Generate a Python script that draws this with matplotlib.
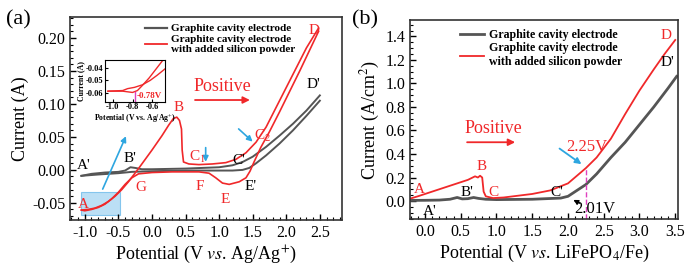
import numpy as np
import matplotlib
matplotlib.use('Agg')
from matplotlib import pyplot as plt

plt.rcParams['font.family'] = 'Liberation Serif'
plt.rcParams['mathtext.fontset'] = 'stix'

# ---- panel (a): cyclic voltammetry ----
red_fwd_x = [-1.05, -0.95, -0.85, -0.75, -0.65, -0.55, -0.45, -0.35, -0.2, 0.0, 0.15, 0.25, 0.32, 0.37,
             0.41, 0.44, 0.45, 0.47, 0.55, 0.7, 0.9, 1.1, 1.25, 1.4, 1.55, 1.7, 1.9, 2.1, 2.3, 2.48]
red_fwd_y = [-0.061, -0.060, -0.058, -0.054, -0.048, -0.040, -0.030, -0.018, 0.002, 0.030, 0.052, 0.068,
             0.078, 0.080, 0.075, 0.062, 0.030, 0.012, 0.009, 0.008, 0.009, 0.011, 0.016, 0.026, 0.042,
             0.065, 0.105, 0.145, 0.185, 0.215]
red_rev_x = [2.48, 2.2, 1.9, 1.75, 1.62, 1.52, 1.46, 1.4, 1.3, 1.15, 1.05, 0.95, 0.85, 0.7, 0.3, 0.0,
             -0.2, -0.3, -0.4, -0.5, -0.6, -0.7, -0.8, -0.9, -1.0, -1.05]
red_rev_y = [0.210, 0.150, 0.088, 0.058, 0.034, 0.012, -0.002, -0.012, -0.018, -0.022, -0.020, -0.012,
             -0.005, -0.003, -0.003, -0.004, -0.006, -0.012, -0.022, -0.034, -0.044, -0.052, -0.057,
             -0.060, -0.062, -0.061]
gray_fwd_x = [-1.05, -0.9, -0.7, -0.5, -0.4, -0.32, -0.25, -0.15, 0.0, 0.5, 1.0, 1.2, 1.35, 1.5, 1.7,
              1.9, 2.1, 2.3, 2.5]
gray_fwd_y = [-0.009, -0.006, -0.004, -0.003, -0.001, 0.004, 0.003, 0.001, 0.001, 0.002, 0.004, 0.007,
              0.012, 0.020, 0.035, 0.052, 0.070, 0.090, 0.113]
gray_rev_x = [2.5, 2.3, 2.1, 1.9, 1.7, 1.55, 1.45, 1.35, 1.2, 1.0, 0.5, 0.0, -0.3, -0.5, -0.8, -1.05]
gray_rev_y = [0.105, 0.082, 0.060, 0.040, 0.022, 0.010, 0.003, 0.000, -0.001, -0.001, -0.001, -0.002,
              -0.003, -0.005, -0.007, -0.009]

# inset (zoom of region A)
ins1_x = [-1.05, -0.9, -0.8, -0.75, -0.7, -0.63, -0.57, -0.51, -0.48]
ins1_y = [-0.0585, -0.0585, -0.0595, -0.058, -0.054, -0.048, -0.042, -0.036, -0.033]
ins2_x = [-1.05, -0.9, -0.85, -0.78, -0.7, -0.62, -0.55, -0.47]
ins2_y = [-0.0585, -0.058, -0.0565, -0.0555, -0.0535, -0.050, -0.046, -0.041]

# ---- panel (b): linear sweep ----
lsv_red_x = [-0.21, -0.1, 0.0, 0.2, 0.4, 0.6, 0.7, 0.74, 0.77, 0.8, 0.82, 0.85, 0.95, 1.1, 1.3, 1.5,
             1.75, 2.0, 2.25, 2.4, 2.6, 2.8, 3.0, 3.2, 3.35, 3.5]
lsv_red_y = [0.02, 0.04, 0.06, 0.10, 0.14, 0.18, 0.21, 0.20, 0.215, 0.20, 0.08, 0.04, 0.025, 0.03,
             0.045, 0.06, 0.09, 0.15, 0.28, 0.37, 0.53, 0.74, 0.94, 1.12, 1.25, 1.37]
lsv_gray_x = [-0.21, 0.0, 0.2, 0.35, 0.45, 0.52, 0.6, 0.68, 0.75, 0.85, 1.0, 1.5, 1.9, 2.0, 2.1, 2.25,
              2.4, 2.6, 2.8, 3.0, 3.2, 3.4, 3.52]
lsv_gray_y = [0.005, 0.006, 0.008, 0.015, 0.03, 0.018, 0.02, 0.03, 0.022, 0.015, 0.012, 0.015, 0.025,
              0.04, 0.08, 0.14, 0.23, 0.37, 0.50, 0.65, 0.80, 0.96, 1.06]

RED = '#f0282a'
GRAY = '#555555'
BLUE = '#2ea6e0'

fig = plt.figure(figsize=(7, 2.77), dpi=100)
axa = fig.add_axes([0.1, 0.2058, 0.3886, 0.733])
axb = fig.add_axes([0.5857, 0.2094, 0.383, 0.7184])

for ax in (axa, axb):
    ax.tick_params(direction='in', labelsize=11.5, top=False, right=False, length=4, width=1)
    ax.tick_params(which='minor', direction='in', length=2, width=0.8)
    ax.minorticks_on()
    for s in ax.spines.values():
        s.set_color('#333333')
        s.set_linewidth(1.2)

# (a)
axa.plot(gray_fwd_x, gray_fwd_y, color=GRAY, lw=1.4)
axa.plot(gray_rev_x, gray_rev_y, color=GRAY, lw=1.4)
axa.plot(red_fwd_x, red_fwd_y, color=RED, lw=1.2)
axa.plot(red_rev_x, red_rev_y, color=RED, lw=1.2)
axa.set_xlim(-1.22, 2.83)
axa.set_ylim(-0.076, 0.232)
axa.set_xticks(np.arange(-1.0, 2.51, 0.5))
axa.set_yticks(np.arange(-0.05, 0.201, 0.05))
axa.set_xticklabels(['%.1f' % v for v in np.arange(-1.0, 2.51, 0.5)])
axa.set_yticklabels(['%.2f' % v for v in np.arange(-0.05, 0.201, 0.05)])
axa.set_xlabel('Potential (V $\\it{vs}$. Ag/Ag$^{+}$)', fontsize=13, labelpad=2)
axa.set_ylabel('Current (A)', fontsize=13, labelpad=2)

axa.add_patch(plt.Rectangle((-1.05, -0.069), 0.58, 0.036, facecolor='#9fd2f2', alpha=0.7,
                            edgecolor='#5fb4e8', lw=0.8))
axa.annotate('', xy=(-0.37, 0.055), xytext=(-0.75, -0.033),
             arrowprops=dict(arrowstyle='-|>', color=BLUE, lw=1.2, mutation_scale=8))
axa.annotate('', xy=(0.8, 0.008), xytext=(0.8, 0.038),
             arrowprops=dict(arrowstyle='-|>', color=BLUE, lw=1.2, mutation_scale=8))
axa.annotate('', xy=(1.53, 0.04), xytext=(1.26, 0.065),
             arrowprops=dict(arrowstyle='-|>', color=BLUE, lw=1.2, mutation_scale=8))

for t, x, y, c in [("A'", -1.12, 0.006, 'k'), ("B'", -0.42, 0.018, 'k'), ("C'", 1.2, 0.015, 'k'),
                   ("D'", 2.3, 0.13, 'k'), ("E'", 1.38, -0.025, 'k'),
                   ('A', -1.1, -0.052, RED), ('B', 0.32, 0.095, RED), ('C$_1$', 0.55, 0.02, RED),
                   ('C$_2$', 1.52, 0.052, RED), ('D', 2.33, 0.212, RED), ('E', 1.02, -0.045, RED),
                   ('F', 0.65, -0.025, RED), ('G', -0.25, -0.027, RED)]:
    axa.text(x, y, t, color=c, fontsize=11, va='center', ha='left')

axa.text(0.62, 0.126, 'Positive', color=RED, fontsize=13, va='center')
axa.annotate('', xy=(1.5, 0.106), xytext=(0.6, 0.106),
             arrowprops=dict(arrowstyle='-|>', color=RED, lw=1.3, mutation_scale=10))

la1, = axa.plot([], [], color=GRAY, lw=1.6, label='Graphite cavity electrode')
la2, = axa.plot([], [], color=RED, lw=1.3, label='Graphite cavity electrode\nwith added silicon powder')
axa.legend(handles=[la1, la2], loc='upper left', bbox_to_anchor=(0.25, 1.0), frameon=False,
           prop={'weight': 'bold', 'size': 8.0}, handlelength=2.0, labelspacing=0.1,
           handletextpad=0.4, borderaxespad=0.2)

# inset
axi = fig.add_axes([0.15, 0.6318, 0.0857, 0.1516])
axi.plot(ins1_x, ins1_y, color=RED, lw=1.0)
axi.plot(ins2_x, ins2_y, color=RED, lw=1.0)
axi.plot([-0.78, -0.78], [-0.067, -0.0592], color='#e040c0', lw=1.0)
axi.set_xlim(-1.08, -0.47)
axi.set_ylim(-0.067, -0.034)
axi.set_xticks([-1.0, -0.8, -0.6])
axi.set_yticks([-0.06, -0.05, -0.04])
axi.set_xticklabels(['-1.0', '-0.8', '-0.6'])
axi.set_yticklabels(['-0.06', '-0.05', '-0.04'])
axi.tick_params(direction='in', labelsize=6.0, length=2, pad=1)
for lab in axi.get_xticklabels() + axi.get_yticklabels():
    lab.set_fontweight('bold')
axi.set_xlabel('Potential (V vs. Ag/Ag$^{+}$)', fontsize=5.6, fontweight='bold', labelpad=0.5)
axi.set_ylabel('Current (A)', fontsize=5.6, fontweight='bold', labelpad=0.5)
axi.text(-0.76, -0.0625, '-0.78V', color=RED, fontsize=6.5, fontweight='bold', va='center')

# (b)
axb.plot(lsv_gray_x, lsv_gray_y, color=GRAY, lw=2.0)
axb.plot(lsv_red_x, lsv_red_y, color=RED, lw=1.3)
axb.plot([2.25, 2.25], [-0.15, 0.28], color='#e040c0', lw=1.0, ls='--')
axb.set_xlim(-0.21, 3.54)
axb.set_ylim(-0.153, 1.54)
axb.set_xticks(np.arange(0.0, 3.51, 0.5))
axb.set_yticks(np.arange(0.0, 1.41, 0.2))
axb.set_xticklabels(['%.1f' % v for v in np.arange(0.0, 3.51, 0.5)])
axb.set_yticklabels(['%.1f' % v for v in np.arange(0.0, 1.41, 0.2)])
axb.set_xlabel('Potential (V $\\it{vs}$. LiFePO$_4$/Fe)', fontsize=13, labelpad=2)
axb.set_ylabel('Current (A/cm$^2$)', fontsize=13, labelpad=2)

for t, x, y, c in [('A', -0.15, 0.10, RED), ('B', 0.72, 0.29, RED), ('C', 0.88, 0.07, RED),
                   ("B'", 0.5, 0.07, 'k'), ("A'", -0.03, -0.085, 'k'), ("C'", 1.75, 0.07, 'k'),
                   ('D', 3.3, 1.41, RED), ("D'", 3.3, 1.18, 'k')]:
    axb.text(x, y, t, color=c, fontsize=11, va='center', ha='left')
axb.text(2.27, 0.46, '2.25V', color=RED, fontsize=12, ha='center', va='center')
axb.text(2.38, -0.07, '2.01V', color='k', fontsize=12, ha='center', va='center')
axb.annotate('', xy=(2.22, 0.3), xytext=(1.85, 0.46),
             arrowprops=dict(arrowstyle='-|>', color=BLUE, lw=1.3, mutation_scale=9))
axb.annotate('', xy=(2.04, 0.02), xytext=(2.2, -0.03),
             arrowprops=dict(arrowstyle='-|>', color='k', lw=1.0, mutation_scale=7))
axb.text(0.55, 0.62, 'Positive', color=RED, fontsize=13, va='center')
axb.annotate('', xy=(1.3, 0.5), xytext=(0.55, 0.5),
             arrowprops=dict(arrowstyle='-|>', color=RED, lw=1.3, mutation_scale=10))

lb1, = axb.plot([], [], color=GRAY, lw=2.0, label='Graphite cavity electrode')
lb2, = axb.plot([], [], color=RED, lw=1.3, label='Graphite cavity electrode\nwith added silicon powder')
axb.legend(handles=[lb1, lb2], loc='upper left', bbox_to_anchor=(0.16, 0.99), frameon=False,
           prop={'weight': 'bold', 'size': 8.6}, handlelength=2.0, labelspacing=0.1,
           handletextpad=0.4, borderaxespad=0.2)

fig.text(0.008, 0.93, '(a)', fontsize=16, va='center')
fig.text(0.503, 0.93, '(b)', fontsize=16, va='center')

fig.savefig('out.png', dpi=100)
